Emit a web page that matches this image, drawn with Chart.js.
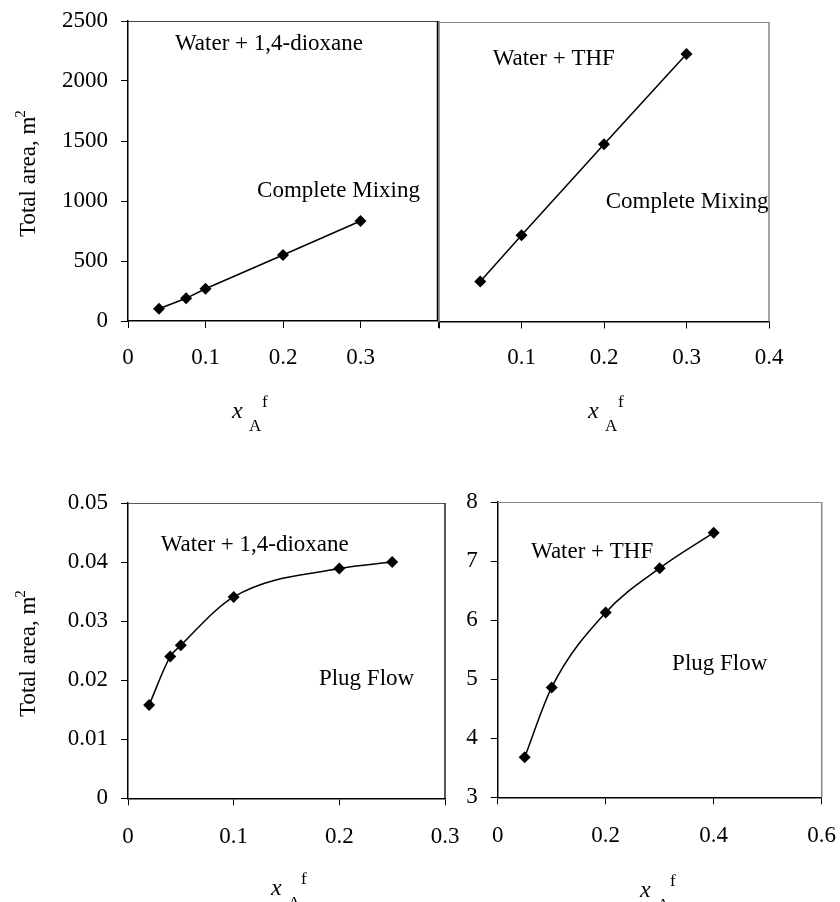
<!DOCTYPE html>
<html>
<head>
<meta charset="utf-8">
<script src="https://cdn.jsdelivr.net/npm/chart.js@4/dist/chart.umd.min.js"></script>
<style>
  body { margin: 0; background: #fff; width: 840px; height: 902px; position: relative; overflow: hidden; }
  canvas { position: absolute; }
</style>
</head>
<body>
<canvas id="c1" width="480" height="470" style="left:0;top:-30px"></canvas>
<canvas id="c2" width="440" height="470" style="left:400px;top:-30px"></canvas>
<canvas id="c3" width="490" height="492" style="left:0;top:410px"></canvas>
<canvas id="c4" width="420" height="492" style="left:440px;top:410px"></canvas>
<script>
// ---- data ----
// complete mixing, water + 1,4-dioxane
const dioxaneMixX = [0.04, 0.075, 0.1, 0.2, 0.3];
const dioxaneMixArea = [102, 189, 269, 550, 833];
// complete mixing, water + THF
const thfMixX = [0.05, 0.1, 0.2, 0.3];
const thfMixArea = [334, 719, 1480, 2232];
// plug flow, water + 1,4-dioxane
const dioxanePlugX = [0.02, 0.04, 0.05, 0.1, 0.2, 0.25];
const dioxanePlugArea = [0.0158, 0.024, 0.0259, 0.0341, 0.0389, 0.040];
// plug flow, water + THF
const thfPlugX = [0.05, 0.1, 0.2, 0.3, 0.4];
const thfPlugArea = [3.68, 4.86, 6.13, 6.88, 7.48];

// tick labels that are printed on each x axis
const xLabels1 = [0, 0.1, 0.2, 0.3];
const xLabels2 = [0.1, 0.2, 0.3, 0.4];
const xLabels3 = [0, 0.1, 0.2, 0.3];
const xLabels4 = [0, 0.2, 0.4, 0.6];

const SERIF = '"Liberation Serif", "Times New Roman", Times, serif';
const fmt = v => String(+v.toFixed(4));

// frame, notes and axis titles (x with sub/superscript, rotated y)
function decor(o) {
  return {
    id: 'decor',
    afterDraw(chart) {
      const { ctx, chartArea: a, scales } = chart;
      ctx.save();
      ctx.strokeStyle = o.topColor; ctx.lineWidth = 1;
      ctx.beginPath(); ctx.moveTo(a.left, a.top + 0.5); ctx.lineTo(a.right, a.top + 0.5); ctx.stroke();
      ctx.strokeStyle = o.rightColor; ctx.lineWidth = o.rightWidth;
      ctx.beginPath(); ctx.moveTo(a.right, a.top); ctx.lineTo(a.right, a.bottom); ctx.stroke();

      ctx.fillStyle = '#000';
      ctx.textAlign = 'left';
      ctx.textBaseline = 'alphabetic';
      ctx.font = '23px ' + SERIF;
      o.notes.forEach(n => {
        ctx.fillText(n.text, scales.x.getPixelForValue(n.x), scales.y.getPixelForValue(n.y));
      });

      const t = o.xTitle;
      ctx.font = 'italic 24px ' + SERIF;
      ctx.fillText('x', t.left, t.base);
      ctx.font = '17px ' + SERIF;
      ctx.fillText('A', t.left + 17, t.base + 13);
      ctx.fillText('f', t.left + 30, t.base - 11);

      if (o.yTitle) {
        const yt = o.yTitle;
        ctx.translate(yt.base, yt.bottom);
        ctx.rotate(-Math.PI / 2);
        ctx.font = '23px ' + SERIF;
        const label = 'Total area, m';
        ctx.fillText(label, 0, 0);
        const w = ctx.measureText(label).width;
        ctx.font = '15px ' + SERIF;
        ctx.fillText('2', w - 1, -10);
      }
      ctx.restore();
    }
  };
}

function makeChart(id, xs, ys, p) {
  const pts = xs.map((x, i) => ({ x: x, y: ys[i] }));
  return new Chart(document.getElementById(id), {
    type: 'line',
    data: {
      datasets: [{
        data: pts,
        borderColor: '#000',
        borderWidth: 1.5,
        backgroundColor: '#000',
        pointStyle: 'rectRot',
        pointRadius: 6,
        pointBackgroundColor: '#000',
        pointBorderColor: '#000',
        pointBorderWidth: 0,
        tension: 0,
        cubicInterpolationMode: p.smooth ? 'monotone' : 'default',
        fill: false,
        clip: false
      }]
    },
    options: {
      responsive: false,
      animation: false,
      devicePixelRatio: 1,
      layout: { padding: { top: p.padTop, right: p.padRight, left: 0, bottom: 0 } },
      plugins: { legend: { display: false }, tooltip: { enabled: false } },
      scales: {
        x: {
          type: 'linear',
          min: p.xMin, max: p.xMax,
          ticks: {
            stepSize: p.xStep,
            color: '#000',
            padding: p.xPad,
            maxRotation: 0,
            font: { family: SERIF, size: 23 },
            callback: v => p.xLabels.some(l => Math.abs(l - v) < 1e-9) ? fmt(v) : ''
          },
          grid: { display: true, drawOnChartArea: false, drawTicks: true, tickLength: 7, color: '#000' },
          border: { display: true, color: '#000', width: 1.5 },
          afterFit: s => { s.height = p.xHeight; }
        },
        y: {
          min: p.yMin, max: p.yMax,
          ticks: {
            display: p.yLabels,
            stepSize: p.yStep,
            color: '#000',
            padding: 13,
            font: { family: SERIF, size: 23 },
            callback: v => fmt(v)
          },
          grid: { display: p.yLabels, drawOnChartArea: false, drawTicks: true, tickLength: 7, color: '#000' },
          border: { display: true, color: p.yBorder, width: 1.5 },
          afterFit: s => { s.width = p.yWidth; }
        }
      }
    },
    plugins: [decor(p.decor)]
  });
}

makeChart('c1', dioxaneMixX, dioxaneMixArea, {
  padTop: 51, padRight: 42, xHeight: 119, yWidth: 128, xPad: 16,
  xMin: 0, xMax: 0.4, xStep: 0.1, xLabels: xLabels1,
  yMin: 0, yMax: 2500, yStep: 500, yLabels: true, yBorder: '#000', smooth: false,
  decor: {
    topColor: '#444', rightColor: '#000', rightWidth: 2.5,
    notes: [
      { text: 'Water + 1,4-dioxane', x: 0.0606, y: 2258 },
      { text: 'Complete Mixing', x: 0.1665, y: 1033 }
    ],
    xTitle: { left: 232, base: 448 },
    yTitle: { base: 35, bottom: 267 }
  }
});

makeChart('c2', thfMixX, thfMixArea, {
  padTop: 52, padRight: 71, xHeight: 118.5, yWidth: 39, xPad: 16,
  xMin: 0, xMax: 0.4, xStep: 0.1, xLabels: xLabels2,
  yMin: 0, yMax: 2500, yStep: 500, yLabels: false, yBorder: '#777', smooth: false,
  decor: {
    topColor: '#888', rightColor: '#888', rightWidth: 1.5,
    notes: [
      { text: 'Water + THF', x: 0.065, y: 2140 },
      { text: 'Complete Mixing', x: 0.202, y: 950 }
    ],
    xTitle: { left: 188, base: 448 }
  }
});

makeChart('c3', dioxanePlugX, dioxanePlugArea, {
  padTop: 93, padRight: 45, xHeight: 103.7, yWidth: 128, xPad: 18,
  xMin: 0, xMax: 0.3, xStep: 0.1, xLabels: xLabels3,
  yMin: 0, yMax: 0.05, yStep: 0.01, yLabels: true, yBorder: '#000', smooth: true,
  decor: {
    topColor: '#555', rightColor: '#222', rightWidth: 1.5,
    notes: [
      { text: 'Water + 1,4-dioxane', x: 0.031, y: 0.0418 },
      { text: 'Plug Flow', x: 0.1807, y: 0.0192 }
    ],
    xTitle: { left: 271, base: 485 },
    yTitle: { base: 35, bottom: 307 }
  }
});

makeChart('c4', thfPlugX, thfPlugArea, {
  padTop: 92, padRight: 38.3, xHeight: 104.7, yWidth: 57.7, xPad: 18,
  xMin: 0, xMax: 0.6, xStep: 0.2, xLabels: xLabels4,
  yMin: 3, yMax: 8, yStep: 1, yLabels: true, yBorder: '#000', smooth: true,
  decor: {
    topColor: '#888', rightColor: '#888', rightWidth: 1.5,
    notes: [
      { text: 'Water + THF', x: 0.0617, y: 7.06 },
      { text: 'Plug Flow', x: 0.323, y: 5.155 }
    ],
    xTitle: { left: 200, base: 487 }
  }
});
</script>
</body>
</html>
